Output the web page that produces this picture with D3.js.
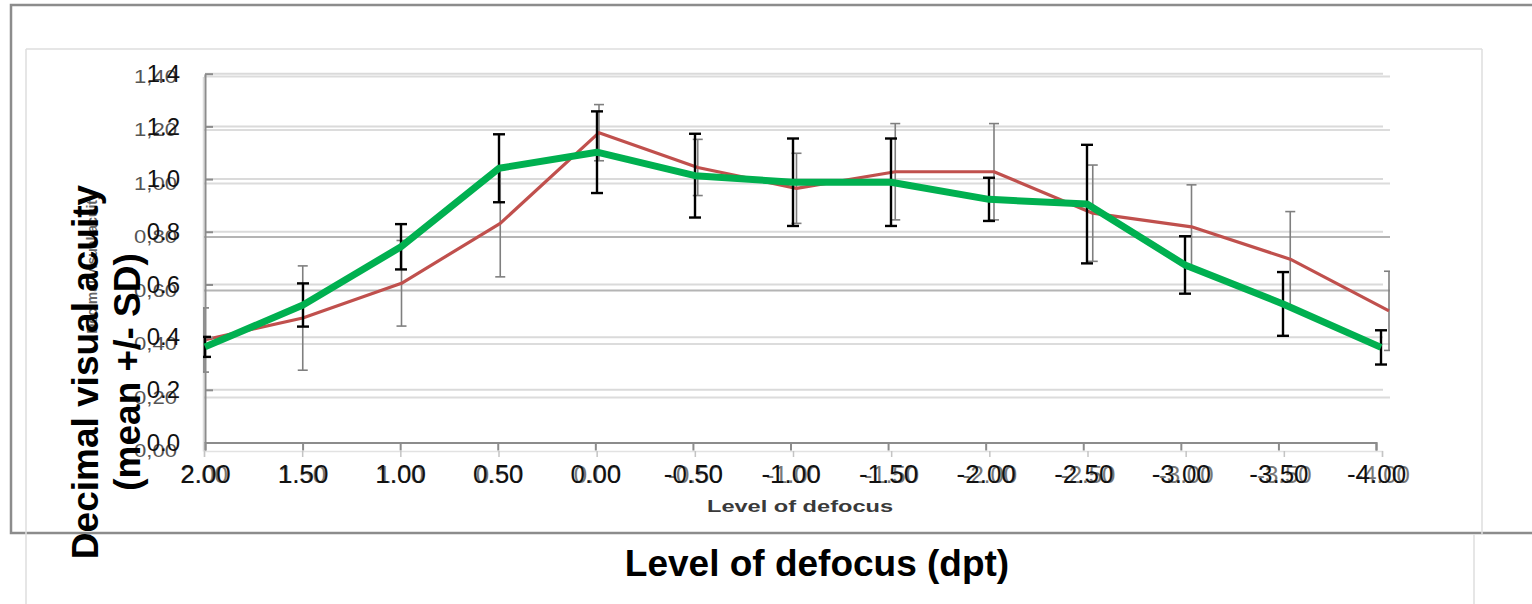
<!DOCTYPE html>
<html>
<head>
<meta charset="utf-8">
<script src="https://cdn.jsdelivr.net/npm/d3@7"></script>
<style>
body { margin: 0; background: #fff; }
svg { display: block; font-family: "Liberation Sans", Arial, sans-serif; }
</style>
</head>
<body>
<div class="chart"></div>
<script>
// defocus steps (dpt), same for both charts
var defocus = [2.0, 1.5, 1.0, 0.5, 0.0, -0.5, -1.0, -1.5, -2.0, -2.5, -3.0, -3.5, -4.0];
var yTicks = [0, 0.2, 0.4, 0.6, 0.8, 1.0, 1.2, 1.4];

// front chart: green line, black SD bars
var greenMean = [0.363, 0.522, 0.743, 1.041, 1.102, 1.013, 0.988, 0.988, 0.923, 0.905, 0.674, 0.526, 0.361];
var greenSD   = [0.038, 0.082, 0.086, 0.129, 0.155, 0.159, 0.166, 0.166, 0.082, 0.225, 0.109, 0.121, 0.065];

// chart underneath: red line, grey SD bars
var redMean = [0.415, 0.497, 0.627, 0.851, 1.190, 1.060, 0.982, 1.044, 1.044, 0.889, 0.838, 0.717, 0.524];
var redSD   = [0.120, 0.195, 0.160, 0.200, 0.105, 0.105, 0.131, 0.180, 0.180, 0.180, 0.157, 0.178, 0.148];

var width = 1532, height = 604;

var svg = d3.select("div.chart").append("svg")
    .attr("width", width)
    .attr("height", height);

var fix2 = function(d) { return d.toFixed(2); };

// ---- frames
svg.append("rect")
    .attr("x", 11).attr("y", 5).attr("width", 1600).attr("height", 528)
    .attr("fill", "none").attr("stroke", "#8c8c8c").attr("stroke-width", 2.5);

var frame = [[26, 49, 1482, 49], [26, 49, 26, 604], [1482, 49, 1482, 534], [1474, 534, 1474, 604]];
svg.selectAll("line.frame").data(frame).enter().append("line")
    .attr("class", "frame")
    .attr("x1", function(d) { return d[0]; }).attr("y1", function(d) { return d[1]; })
    .attr("x2", function(d) { return d[2]; }).attr("y2", function(d) { return d[3]; })
    .attr("stroke", "#dedede").attr("stroke-width", 1.5);

// ---- scales
var xTickB = d3.scalePoint().domain(defocus).range([204, 1382]);
var xB = d3.scalePoint().domain(defocus).range([204, 1389]);
var yB = d3.scaleLinear().domain([0, 1.4]).range([451, 76.5]);

var xTickF = d3.scalePoint().domain(defocus).range([205, 1376]);
var xF = d3.scalePoint().domain(defocus).range([205, 1381]);
var yF = d3.scaleLinear().domain([0, 1.4]).range([442.5, 73.7]);

var defs = svg.append("defs");
defs.append("clipPath").attr("id", "clipB").append("rect")
    .attr("x", 203).attr("y", 40).attr("width", 1187).attr("height", 420);
defs.append("clipPath").attr("id", "clipF").append("rect")
    .attr("x", 203).attr("y", 40).attr("width", 1190).attr("height", 410);

// ---- gridlines
var darkGrid = [0.6, 0.8];
svg.append("g").selectAll("line").data(yTicks.slice(1)).enter().append("line")
    .attr("x1", 204).attr("x2", 1390)
    .attr("y1", function(d) { return yB(d); }).attr("y2", function(d) { return yB(d); })
    .attr("stroke", function(d) { return darkGrid.indexOf(d) >= 0 ? "#b4b4b4" : "#dcdcdc"; })
    .attr("stroke-width", 2);

svg.append("g").selectAll("line").data(yTicks.slice(1)).enter().append("line")
    .attr("x1", 205).attr("x2", 1383)
    .attr("y1", function(d) { return yF(d); }).attr("y2", function(d) { return yF(d); })
    .attr("stroke", "#dadada").attr("stroke-width", 2);

// ---- background chart axes
var axBx = svg.append("g")
    .attr("transform", "translate(0," + yB(0) + ")")
    .call(d3.axisBottom(xTickB).tickFormat(fix2).tickSizeOuter(0).tickSize(6).tickPadding(9));
axBx.select(".domain").attr("stroke", "#e2e2e2").attr("stroke-width", 1.5);
axBx.selectAll("line").attr("stroke", "#c4c4c4").attr("stroke-width", 1.5);
axBx.attr("font-family", null).attr("font-size", null);
axBx.selectAll("text").attr("font-size", 24).attr("fill", "#777");

var axBy = svg.append("g")
    .attr("transform", "translate(203,0)")
    .call(d3.axisLeft(yB).tickValues(yTicks).tickSizeOuter(0).tickSize(0).tickPadding(26)
        .tickFormat(function(d) { return d.toFixed(2).replace(".", ","); }));
axBy.select(".domain").attr("stroke", "#dcdcdc").attr("stroke-width", 1.5);
axBy.attr("font-family", null).attr("font-size", null);
axBy.selectAll("text").attr("font-size", 18).attr("fill", "#555")
    .attr("textLength", 43).attr("lengthAdjust", "spacingAndGlyphs");

svg.append("text")
    .attr("transform", "translate(97,263) rotate(-90)")
    .attr("text-anchor", "middle")
    .attr("font-size", 14).attr("font-weight", "bold").attr("fill", "#666")
    .text("Decimal visual acuity");

svg.append("text")
    .attr("x", 800).attr("y", 512)
    .attr("text-anchor", "middle")
    .attr("font-size", 16).attr("font-weight", "bold").attr("fill", "#3a3a3a")
    .attr("textLength", 186).attr("lengthAdjust", "spacingAndGlyphs")
    .text("Level of defocus");

// ---- background series
var gB = svg.append("g").attr("clip-path", "url(#clipB)");
var barsB = gB.selectAll("g.sd").data(redMean).enter().append("g").attr("class", "sd")
    .attr("stroke", "#7f7f7f").attr("stroke-width", 1.6);
barsB.append("line")
    .attr("x1", function(d, i) { return xB(defocus[i]); })
    .attr("x2", function(d, i) { return xB(defocus[i]); })
    .attr("y1", function(d, i) { return yB(d + redSD[i]); })
    .attr("y2", function(d, i) { return yB(d - redSD[i]); });
[1, -1].forEach(function(s) {
    barsB.append("line")
        .attr("x1", function(d, i) { return xB(defocus[i]) - 5; })
        .attr("x2", function(d, i) { return xB(defocus[i]) + 5; })
        .attr("y1", function(d, i) { return yB(d + s * redSD[i]); })
        .attr("y2", function(d, i) { return yB(d + s * redSD[i]); });
});

gB.append("path")
    .datum(redMean)
    .attr("fill", "none").attr("stroke", "#c0504d").attr("stroke-width", 3.2)
    .attr("stroke-linejoin", "round")
    .attr("d", d3.line()
        .x(function(d, i) { return xB(defocus[i]); })
        .y(function(d) { return yB(d); }));

// ---- front chart axes
var axFx = svg.append("g")
    .attr("transform", "translate(0," + yF(0) + ")")
    .call(d3.axisBottom(xTickF).tickFormat(fix2).tickSizeOuter(0).tickSize(8).tickPadding(14));
axFx.select(".domain").attr("stroke", "#8c8c8c").attr("stroke-width", 2);
axFx.selectAll("line").attr("stroke", "#8c8c8c").attr("stroke-width", 2);
axFx.attr("font-family", null).attr("font-size", null);
axFx.selectAll("text").attr("font-size", 26).attr("fill", "#111");

var axFy = svg.append("g")
    .attr("transform", "translate(205,0)")
    .call(d3.axisLeft(yF).tickValues(yTicks).tickSizeOuter(0).tickSizeInner(-8).tickPadding(25)
        .tickFormat(function(d) { return d.toFixed(1); }));
axFy.select(".domain").attr("stroke", "#8c8c8c").attr("stroke-width", 2);
axFy.selectAll("line").attr("stroke", "#8c8c8c").attr("stroke-width", 2);
axFy.attr("font-family", null).attr("font-size", null);
axFy.selectAll("text").attr("font-size", 24).attr("fill", "#111");

// ---- front series
var gF = svg.append("g").attr("clip-path", "url(#clipF)");
var barsF = gF.selectAll("g.sd").data(greenMean).enter().append("g").attr("class", "sd")
    .attr("stroke", "#000").attr("stroke-width", 2.4);
barsF.append("line")
    .attr("x1", function(d, i) { return xF(defocus[i]); })
    .attr("x2", function(d, i) { return xF(defocus[i]); })
    .attr("y1", function(d, i) { return yF(d + greenSD[i]); })
    .attr("y2", function(d, i) { return yF(d - greenSD[i]); });
[1, -1].forEach(function(s) {
    barsF.append("line")
        .attr("x1", function(d, i) { return xF(defocus[i]) - 6; })
        .attr("x2", function(d, i) { return xF(defocus[i]) + 6; })
        .attr("y1", function(d, i) { return yF(d + s * greenSD[i]); })
        .attr("y2", function(d, i) { return yF(d + s * greenSD[i]); });
});

gF.append("path")
    .datum(greenMean)
    .attr("fill", "none").attr("stroke", "#00b050").attr("stroke-width", 7)
    .attr("stroke-linejoin", "round")
    .attr("d", d3.line()
        .x(function(d, i) { return xF(defocus[i]); })
        .y(function(d) { return yF(d); }));

// ---- front titles
var yTitle = ["Decimal visual acuity", "(mean +/- SD)"];
var yTitleX = [98, 140];
svg.selectAll("text.ytitle").data(yTitle).enter().append("text")
    .attr("class", "ytitle")
    .attr("transform", function(d, i) { return "translate(" + yTitleX[i] + ",372) rotate(-90)"; })
    .attr("text-anchor", "middle")
    .attr("font-size", 37).attr("font-weight", "bold").attr("fill", "#000")
    .text(function(d) { return d; });

svg.append("text")
    .attr("x", 817).attr("y", 576)
    .attr("text-anchor", "middle")
    .attr("font-size", 37).attr("font-weight", "bold").attr("fill", "#000")
    .text("Level of defocus (dpt)");
</script>
</body>
</html>
